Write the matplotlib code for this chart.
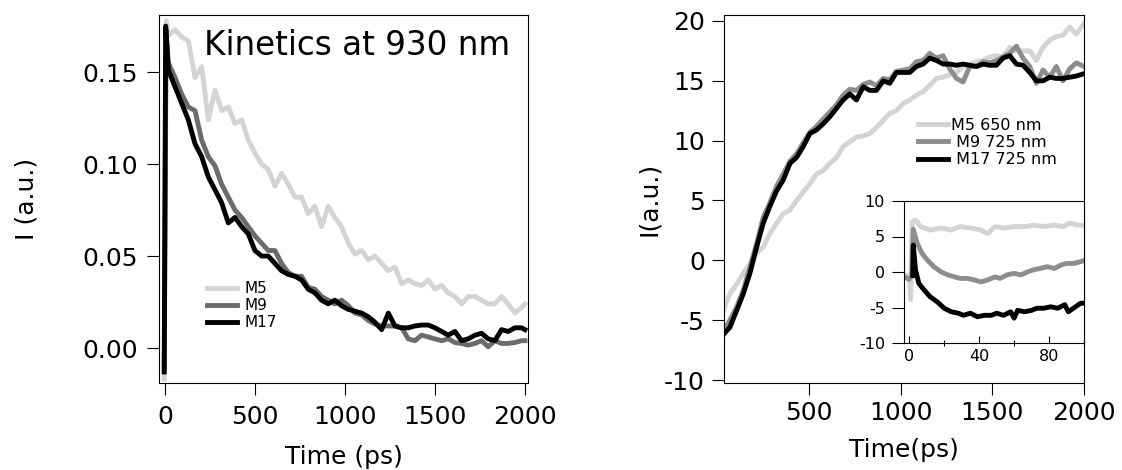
import numpy as np
import matplotlib.pyplot as plt

plt.rcParams['font.family'] = ['DejaVu Sans']

# ---- left panel: kinetics at 930 nm ----
left_time = [19, 56, 93, 130, 167, 204, 241, 278, 315, 352, 389, 426, 463, 500,
             537, 574, 611, 648, 685, 722, 759, 796, 833, 870, 907, 944, 981,
             1019, 1056, 1093, 1130, 1167, 1204, 1241, 1278, 1315, 1352, 1389,
             1426, 1463, 1500, 1537, 1574, 1611, 1648, 1685, 1722, 1759, 1796,
             1833, 1870, 1907, 1944, 1981, 2000]

m5_onset_t = [-4, 8]
m5_onset = [-0.017, 0.178]
m5_930 = [0.170, 0.173, 0.169, 0.167, 0.147, 0.153, 0.124, 0.140, 0.129, 0.131,
          0.122, 0.124, 0.113, 0.106, 0.100, 0.097, 0.088, 0.095, 0.089, 0.082,
          0.082, 0.073, 0.077, 0.066, 0.077, 0.071, 0.066, 0.057, 0.051, 0.053,
          0.048, 0.050, 0.046, 0.042, 0.044, 0.035, 0.037, 0.035, 0.034, 0.037,
          0.032, 0.034, 0.030, 0.028, 0.024, 0.028, 0.028, 0.026, 0.024, 0.024,
          0.028, 0.024, 0.019, 0.022, 0.024]

m9_onset_t = [-4, 6]
m9_onset = [-0.012, 0.173]
m9_930 = [0.155, 0.147, 0.138, 0.131, 0.129, 0.113, 0.104, 0.099, 0.089, 0.082,
          0.075, 0.071, 0.066, 0.061, 0.057, 0.053, 0.053, 0.046, 0.041, 0.039,
          0.039, 0.033, 0.032, 0.028, 0.026, 0.024, 0.026, 0.023, 0.019, 0.018,
          0.015, 0.013, 0.012, 0.012, 0.012, 0.011, 0.005, 0.004, 0.007, 0.006,
          0.005, 0.004, 0.005, 0.003, 0.0025, 0.0016, 0.0025, 0.004, 0.0007,
          0.004, 0.0025, 0.0025, 0.003, 0.004, 0.004]

m17_onset_t = [-4, 4]
m17_onset = [-0.013, 0.175]
m17_930 = [0.151, 0.142, 0.133, 0.124, 0.111, 0.104, 0.093, 0.086, 0.079, 0.068,
           0.071, 0.066, 0.062, 0.053, 0.050, 0.050, 0.046, 0.042, 0.040, 0.039,
           0.037, 0.032, 0.030, 0.026, 0.024, 0.026, 0.023, 0.021, 0.020, 0.019,
           0.017, 0.014, 0.010, 0.019, 0.012, 0.011, 0.011, 0.012, 0.0125, 0.0125,
           0.011, 0.009, 0.007, 0.009, 0.004, 0.005, 0.007, 0.008, 0.005, 0.004,
           0.010, 0.009, 0.011, 0.011, 0.010]

# ---- right panel: rise kinetics ----
right_time = [31, 67, 104, 140, 176, 213, 249, 285, 322, 358, 395, 431, 467, 504,
              540, 576, 613, 649, 685, 722, 758, 795, 831, 867, 904, 940, 976,
              1013, 1049, 1085, 1122, 1158, 1195, 1231, 1267, 1304, 1340, 1376,
              1413, 1449, 1485, 1522, 1558, 1595, 1631, 1667, 1704, 1740, 1776,
              1813, 1849, 1885, 1922, 1958, 2000]

m5_650 = [-4.2, -2.8, -2.0, -1.1, -0.3, 0.6, 1.1, 2.2, 3.1, 3.9,
          4.2, 5.0, 5.7, 6.4, 7.2, 7.5, 8.1, 8.6, 9.5, 9.9,
          10.3, 10.4, 10.6, 11.1, 11.7, 12.3, 12.5, 13.1, 13.4, 13.8,
          14.1, 14.6, 15.2, 15.3, 15.5, 15.7, 16.2, 16.4, 16.6, 16.7,
          17.0, 17.1, 17.0, 17.8, 17.5, 17.5, 17.5, 16.7, 17.8, 18.4,
          18.7, 18.8, 19.5, 18.9, 19.8]

m9_725 = [-6.0, -5.0, -3.9, -2.5, -0.6, 1.4, 3.6, 4.8, 6.2, 7.2,
          8.3, 8.9, 9.8, 10.7, 11.2, 11.8, 12.4, 13.0, 13.8, 14.3,
          14.2, 14.7, 14.9, 14.6, 15.2, 15.1, 15.8, 15.9, 16.0, 16.6,
          16.7, 17.3, 16.9, 17.1, 16.0, 15.2, 14.9, 16.2, 16.2, 16.6,
          16.5, 16.7, 17.0, 17.3, 17.9, 16.9, 16.2, 14.8, 15.9, 15.3,
          16.2, 15.0, 16.0, 16.5, 16.2]

m17_725 = [-6.2, -5.6, -4.2, -2.8, -1.1, 1.1, 3.1, 4.5, 5.8, 6.7,
           8.1, 8.6, 9.5, 10.6, 10.9, 11.4, 12.0, 12.7, 13.4, 13.9,
           13.4, 14.5, 14.2, 14.2, 15.0, 14.8, 15.7, 15.7, 15.7, 16.2,
           16.4, 16.9, 16.7, 16.4, 16.4, 16.3, 16.4, 16.3, 16.2, 16.4,
           16.3, 16.3, 16.9, 17.1, 16.4, 16.3, 15.7, 15.0, 15.0, 15.3,
           15.2, 15.2, 15.3, 15.4, 15.6]

# ---- inset: first 100 ps ----
ins_m5_t = [-3, 0, 0.8, 1.7, 3.6, 6.5, 12, 18, 24, 29, 35, 41, 45, 49, 54, 60,
            66, 71, 77, 83, 88, 92, 96, 101]
ins_m5 = [-0.4, -0.5, -3.9, 7.1, 7.3, 6.4, 5.9, 6.2, 5.9, 6.4, 6.2, 5.9, 5.4,
          6.4, 6.2, 6.4, 6.4, 6.6, 6.4, 6.6, 6.4, 6.9, 6.6, 6.6]

ins_m9_t = [-3, 0, 1.5, 2.3, 4.6, 7.4, 10.3, 14, 18, 22, 26, 29, 33, 37, 41, 45,
            49, 52, 56, 60, 64, 68, 71, 75, 79, 83, 87, 90, 94, 98, 101]
ins_m9 = [-0.7, -1.0, -0.5, 6.0, 4.0, 2.6, 1.7, 0.75, 0.05, -0.4, -0.7, -0.9,
          -0.9, -1.1, -1.4, -1.1, -0.7, -0.9, -0.4, -0.2, -0.4, 0.05, 0.3, 0.5,
          0.75, 0.5, 1.0, 1.2, 1.2, 1.45, 1.7]

ins_m17_t = [2.0, 2.3, 3.6, 5.5, 8.4, 12, 16, 20, 24, 28, 31, 35, 39, 43, 47, 50,
             54, 58, 60, 62, 66, 70, 73, 77, 81, 85, 89, 91, 94, 98, 101]
ins_m17 = [-0.5, 3.8, 0.3, -1.6, -2.5, -3.5, -4.2, -5.1, -5.6, -5.8, -6.1, -5.8,
           -6.3, -6.1, -6.1, -5.8, -6.1, -5.6, -6.5, -5.4, -5.6, -5.4, -5.1,
           -5.1, -4.9, -5.1, -4.6, -5.6, -5.1, -4.4, -4.4]

light = '#d4d4d4'
dark_left = '#6b6b6b'
mid_right = '#8d8d8d'
lw = 3.5

fig = plt.figure(figsize=(11.22, 4.70), dpi=100)
W, H = 1122, 470

# left panel
ax1 = fig.add_axes([159 / W, 1 - 383 / H, 369 / W, 368 / H])
ax1.plot(m5_onset_t + left_time, m5_onset + m5_930, color=light, lw=lw, label='M5')
ax1.plot(m9_onset_t + left_time, m9_onset + m9_930, color=dark_left, lw=lw, label='M9')
ax1.plot(m17_onset_t + left_time, m17_onset + m17_930, color='black', lw=lw, label='M17')
ax1.set_xlim(-33, 2017)
ax1.set_ylim(-0.019, 0.181)
ax1.set_xticks([0, 500, 1000, 1500, 2000])
ax1.set_yticks([0, 0.05, 0.10, 0.15], labels=['0.00', '0.05', '0.10', '0.15'])
ax1.tick_params(axis='both', direction='out', length=8.6, width=0.8, labelsize=18)
ax1.tick_params(axis='x', pad=7.5)
ax1.tick_params(axis='y', pad=6.5)
ax1.set_xlabel('Time (ps)', fontsize=18)
ax1.set_ylabel('I (a.u.)', fontsize=18)
ax1.xaxis.set_label_coords(0.5, -0.2)
ax1.xaxis.label.set_va('center')
ax1.yaxis.set_label_coords(-0.358, 0.5)
ax1.yaxis.label.set_va('center')
ax1.text(0.951, 0.916, 'Kinetics at 930 nm', transform=ax1.transAxes,
         ha='right', va='center', fontsize=23.5)
ax1.legend(loc='upper left', bbox_to_anchor=(0.130, 0.277), frameon=False,
           fontsize=11, handlelength=1.96, handletextpad=0.52,
           labelspacing=0.14, borderpad=0, borderaxespad=0)

# right panel
ax2 = fig.add_axes([724 / W, 1 - 383 / H, 360 / W, 368 / H])
ax2.plot(right_time, m5_650, color=light, lw=lw, label='M5 650 nm')
ax2.plot(right_time, m9_725, color=mid_right, lw=lw, label=' M9 725 nm')
ax2.plot(right_time, m17_725, color='black', lw=lw, label=' M17 725 nm')
ax2.set_xlim(35, 2000)
ax2.set_ylim(-10.25, 20.5)
ax2.set_xticks([500, 1000, 1500, 2000])
ax2.set_yticks([-10, -5, 0, 5, 10, 15, 20],
               labels=['-10', '-5', '0', '5', '10', '15', '20'])
ax2.tick_params(axis='both', direction='out', length=8.6, width=0.8, labelsize=18)
ax2.tick_params(axis='x', pad=4.5)
ax2.tick_params(axis='y', pad=5)
ax2.set_xlabel('Time(ps)', fontsize=18)
ax2.set_ylabel('I(a.u.)', fontsize=18)
ax2.xaxis.set_label_coords(0.5, -0.182)
ax2.xaxis.label.set_va('center')
ax2.yaxis.set_label_coords(-0.208, 0.5)
ax2.yaxis.label.set_va('center')
ax2.legend(loc='upper left', bbox_to_anchor=(0.539, 0.721), frameon=False,
           fontsize=11.5, handlelength=1.875, handletextpad=0.19,
           labelspacing=0.15, borderpad=0, borderaxespad=0)

# inset
ax3 = fig.add_axes([904 / W, 1 - 343 / H, 180 / W, 142 / H])
ax3.plot(ins_m5_t, ins_m5, color=light, lw=lw)
ax3.plot(ins_m9_t, ins_m9, color=mid_right, lw=lw)
ax3.plot(ins_m17_t, ins_m17, color='black', lw=lw)
ax3.set_xlim(-3, 100)
ax3.set_ylim(-10, 10)
ax3.set_xticks([0, 40, 80])
ax3.set_xticks([20, 60, 100], minor=True)
ax3.set_yticks([-10, -5, 0, 5, 10], labels=['-10', '-5', '0', '5', '10'])
ax3.tick_params(axis='x', which='major', direction='in', length=5, width=0.8,
                labelsize=11.5, pad=4.3)
ax3.tick_params(axis='x', which='minor', direction='inout', length=5, width=0.8)
ax3.tick_params(axis='y', direction='out', length=8.6, width=0.8,
                labelsize=11.5, pad=5)

for ax in (ax1, ax2, ax3):
    for s in ax.spines.values():
        s.set_linewidth(0.8)

fig.savefig('out.png', dpi=100)
